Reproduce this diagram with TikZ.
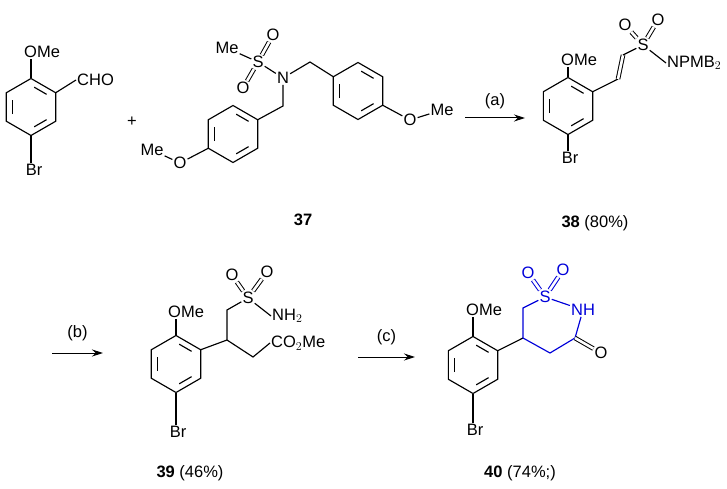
\documentclass[tikz,border=0pt]{standalone}
\usepackage{fontspec}
\setmainfont{Liberation Sans}
\usetikzlibrary{calc,arrows.meta}
\tikzset{
  bond/.style={line width=1.15pt},
  dbl/.style={line width=1pt, double, double distance=2.6pt},
  atom/.style={font=\fontsize{16.5}{16.5}\selectfont, inner sep=1pt},
  lbl/.style={font=\fontsize{16.5}{16.5}\selectfont},
  rxn/.style={line width=1pt, -{Stealth[length=11pt,width=7pt]}},
  hl/.style={draw=blue!85!black, text=blue!85!black}
}
% benzene ring: name, x, y
\newcommand\arene[3]{%
  \coordinate (#1) at (#2,#3);
  \foreach \a/\n in {-90/1,-30/2,30/3,90/4,150/5,210/6}
    \coordinate (#1\n) at ($(#1)+(\a:28.5)$);
  \draw[bond] (#11)--(#12)--(#13)--(#14)--(#15)--(#16)--cycle;
  \foreach \p/\q in {1/2,3/4,5/6}
    \draw[bond] ($(#1)!0.76!($(#1\p)!0.17!(#1\q)$)$) -- ($(#1)!0.76!($(#1\p)!0.83!(#1\q)$)$);
}
\begin{document}
\begin{tikzpicture}[x=1pt,y=-1pt]
  \useasboundingbox (0,0) rectangle (727,489);

  % aldehyde
  \arene{A}{31}{107}
  \node[atom,anchor=west] (omeA) at (23,52) {OMe};
  \node[atom,anchor=west] (cho) at (76,80) {CHO};
  \node[atom] (brA) at (34,170) {Br};
  \draw[bond] (A1) -- (omeA.south -| A1);
  \draw[bond] (A2) -- (cho.west);
  \draw[bond] (A4) -- (brA.north -| A4);
  \node[atom] (plus) at (132,122) {+};

  % sulfonamide 37
  \arene{B}{233}{134}
  \arene{C}{358}{91}
  \node[atom] (me37) at (227,48) {Me};
  \node[atom] (s37) at (258,62) {S};
  \node[atom] (o37a) at (273,35) {O};
  \node[atom] (o37b) at (243,88) {O};
  \node[atom] (n37) at (283,78) {N};
  \coordinate (ch37a) at (310,62);
  \coordinate (ch37b) at (283,106);
  \draw[bond] (me37) -- (s37) -- (n37);
  \draw[dbl] (s37) -- (o37a);
  \draw[dbl] (s37) -- (o37b);
  \draw[bond] (n37) -- (ch37a) -- (C6);
  \draw[bond] (n37) -- (ch37b) -- (B2);
  \node[atom] (oB) at (180,163) {O};
  \node[atom] (meB) at (152,150) {Me};
  \draw[bond] (B5) -- (oB) -- (meB);
  \node[atom] (oC) at (410,120) {O};
  \node[atom] (meC) at (442,110) {Me};
  \draw[bond] (C3) -- (oC) -- (meC);
  \node[lbl] (l37) at (303,220) {\textbf{37}};

  % step (a)
  \coordinate (a0) at (465,118);
  \coordinate (a1) at (525,118);
  \draw[rxn] (a0) -- (a1) node[lbl,midway,above=5pt] (la) {(a)};

  % vinyl sulfonamide 38
  \arene{D}{568}{106}
  \node[atom,anchor=west] (omeD) at (560,60) {OMe};
  \node[atom] (brD) at (570,158) {Br};
  \draw[bond] (D1) -- (omeD.south -| D1);
  \draw[bond] (D4) -- (brD.north -| D4);
  \coordinate (v1) at (618,79);
  \coordinate (v2) at (623,55);
  \node[atom] (s38) at (643,45) {S};
  \node[atom] (o38a) at (625,25) {O};
  \node[atom] (o38b) at (658,20) {O};
  \node[atom,anchor=west] (n38) at (666,63) {NPMB$_2$};
  \draw[bond] (D2) -- (v1);
  \draw[dbl] (v1) -- (v2);
  \draw[bond] (v2) -- (s38) -- (n38.west);
  \draw[dbl] (s38) -- (o38a);
  \draw[dbl] (s38) -- (o38b);
  \node[lbl] (l38) at (595,223) {\textbf{38} (80\%)};

  % step (b)
  \coordinate (b0) at (52,353);
  \coordinate (b1) at (103,353);
  \draw[rxn] (b0) -- (b1) node[lbl,midway,above=8pt] (lb) {(b)};

  % ester 39
  \arene{E}{176}{364}
  \node[atom,anchor=west] (omeE) at (167,312) {OMe};
  \node[atom] (brE) at (178,432) {Br};
  \draw[bond] (E1) -- (omeE.south -| E1);
  \draw[bond] (E4) -- (brE.north -| E4);
  \coordinate (ch39) at (227,340);
  \coordinate (cs39) at (227,310);
  \coordinate (cc39) at (253,357);
  \node[atom] (s39) at (248,298) {S};
  \node[atom] (o39a) at (232,275) {O};
  \node[atom] (o39b) at (267,272) {O};
  \node[atom,anchor=west] (nh39) at (271,316) {NH$_2$};
  \node[atom,anchor=west] (co39) at (270,343) {CO$_2$Me};
  \draw[bond] (E2) -- (ch39) -- (cs39) -- (s39) -- (nh39.west);
  \draw[dbl] (s39) -- (o39a);
  \draw[dbl] (s39) -- (o39b);
  \draw[bond] (ch39) -- (cc39) -- (co39.west);
  \node[lbl] (l39) at (190,473) {\textbf{39} (46\%)};

  % step (c)
  \coordinate (c0) at (358,357);
  \coordinate (c1) at (415,357);
  \draw[rxn] (c0) -- (c1) node[lbl,midway,above=8pt] (lc) {(c)};

  % cyclic sulfonamide 40
  \arene{F}{473}{365}
  \node[atom,anchor=west] (omeF) at (465,310) {OMe};
  \node[atom] (brF) at (475,430) {Br};
  \draw[bond] (F1) -- (omeF.south -| F1);
  \draw[bond] (F4) -- (brF.north -| F4);
  \coordinate (c40a) at (523,338);
  \coordinate (c40b) at (523,308);
  \coordinate (c40c) at (575,338);
  \coordinate (c40d) at (550,353);
  \node[atom,hl,draw=none] (s40) at (545,297) {S};
  \node[atom,hl,draw=none] (o40a) at (528,273) {O};
  \node[atom,hl,draw=none] (o40b) at (563,270) {O};
  \node[atom,hl,draw=none] (nh40) at (583,310) {NH};
  \node[atom] (o40c) at (601,353) {O};
  \draw[bond] (F2) -- (c40a);
  \draw[bond,hl] (c40a) -- (c40b) -- (s40) -- (nh40) -- (c40c) -- (c40d) -- (c40a);
  \draw[dbl,hl] (s40) -- (o40a);
  \draw[dbl,hl] (s40) -- (o40b);
  \draw[dbl] (c40c) -- (o40c);
  \node[lbl] (l40) at (520,473) {\textbf{40} (74\%;)};
\end{tikzpicture}
\end{document}
